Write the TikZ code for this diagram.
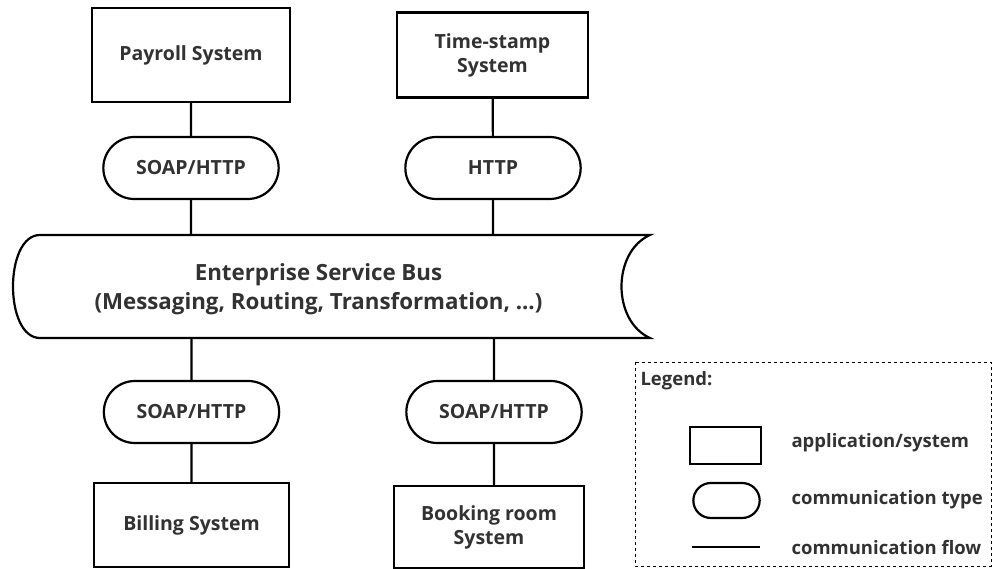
\documentclass[tikz,border=0pt]{standalone}
\usepackage{fontspec}
\setmainfont{Open Sans}
\usetikzlibrary{shapes.misc}
\definecolor{esbtext}{RGB}{50, 50, 50}
\definecolor{esbline}{RGB}{0, 0, 0}

\tikzset{
  sysbox/.style={draw=esbline, line width=2.2pt, fill=white, align=center,
    text=esbtext, font=\bfseries\fontsize{19.5}{24}\selectfont},
  commpill/.style={rounded rectangle, draw=esbline, line width=2.2pt, fill=white,
    minimum width=182, minimum height=62, text=esbtext,
    font=\bfseries\fontsize{19.5}{24}\selectfont},
  flow/.style={draw=esbline, line width=2.2pt},
  legtext/.style={anchor=west, text=esbtext, font=\bfseries\fontsize{18.5}{22}\selectfont}
}

\begin{document}
\begin{tikzpicture}[x=1pt, y=-1pt]

\useasboundingbox (0,0) rectangle (992,569);

% Bus: rounded left end, scroll-like right end
\coordinate (bustop) at (0,235);
\coordinate (busbot) at (0,338);
\draw[flow, fill=white] (40,235) -- (650,235)
  .. controls (612,252) and (612,321) .. (650,338)
  -- (40,338) .. controls (4,338) and (4,235) .. (40,235) -- cycle;
\node[align=center, text=esbtext, font=\bfseries\fontsize{22.3}{28.5}\selectfont]
  (esb) at (318.5,289) {Enterprise Service Bus\\(Messaging, Routing, Transformation, ...)};

% Systems on top
\node[sysbox, minimum width=198, minimum height=94] (payroll) at (191,55) {Payroll System};
\node[sysbox, minimum width=191, minimum height=85] (stamp) at (492.5,55) {Time-stamp\\System};

\node[commpill] (soapA) at (191,168) {SOAP/HTTP};
\node[commpill] (httpB) at (493,168) {HTTP};

% Systems below
\node[commpill] (soapC) at (191.5,412) {SOAP/HTTP};
\node[commpill] (soapD) at (494,412) {SOAP/HTTP};

\node[sysbox, minimum width=195, minimum height=84] (billing) at (191.5,525) {Billing System};
\node[sysbox, minimum width=190, minimum height=82] (booking) at (489,527) {Booking room\\System};

% Flows
\draw[flow] (payroll) -- (soapA);
\draw[flow] (soapA) -- (soapA |- bustop);
\draw[flow] (stamp) -- (httpB);
\draw[flow] (httpB) -- (httpB |- bustop);
\draw[flow] (soapC |- busbot) -- (soapC);
\draw[flow] (soapC) -- (billing);
\draw[flow] (soapD |- busbot) -- (soapD);
\draw[flow] (soapD) -- (soapD |- booking.north);

% Legend
\draw[dashed, line width=1pt] (635,362) rectangle (991,566);
\node[legtext] (legtitle) at (637,381) {Legend:};
\node[draw=esbline, line width=2.2pt, minimum width=71, minimum height=37] (legsys) at (725.5,445.5) {};
\node[rounded rectangle, draw=esbline, line width=2.2pt, minimum width=73, minimum height=35] (legcomm) at (726.5,500.5) {};
\coordinate (legA) at (692,547);
\coordinate (legB) at (760,547);
\draw[flow] (legA) -- (legB);
\node[legtext] at (788,443) {application/system};
\node[legtext] at (788,500) {communication type};
\node[legtext] at (788,548) {communication flow};

\end{tikzpicture}
\end{document}
